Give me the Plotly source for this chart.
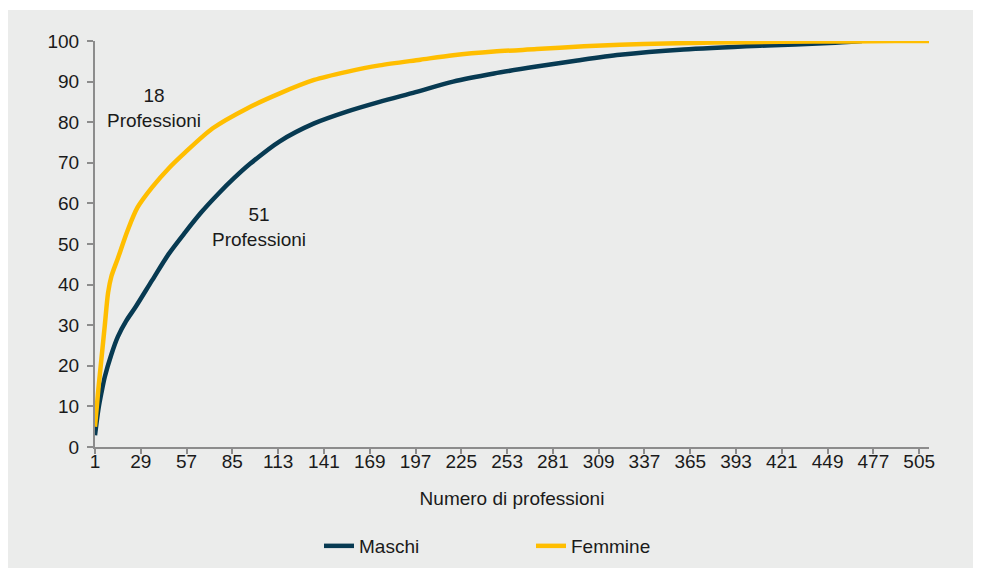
import plotly.graph_objects as go

# Cumulative share (%) of employed covered by the first N professions
femmine_x = [1, 3, 5, 7, 9, 11, 15, 21, 27, 36, 46, 56, 73, 94, 114, 135, 155, 175,
             200, 220, 245, 271, 300, 322, 350, 380, 420, 463, 490, 512]
femmine_y = [5.0, 14.0, 22.0, 30.0, 38.0, 42.0, 46.5, 53.4, 59.0, 64.0, 68.6, 72.5,
             78.5, 83.4, 87.1, 90.4, 92.4, 94.0, 95.4, 96.5, 97.4, 98.0, 98.7, 99.1,
             99.4, 99.6, 99.8, 99.9, 100.0, 100.0]

maschi_x = [1, 3, 5, 7, 11, 15, 20, 26, 36, 46, 56, 66, 76, 86, 96, 114, 135, 155,
            175, 197, 220, 245, 271, 296, 322, 361, 412, 450, 470]
maschi_y = [2.9, 9.1, 13.5, 17.3, 22.8, 27.2, 31.0, 34.6, 41.1, 47.5, 52.8, 57.8,
            62.2, 66.2, 69.8, 75.3, 79.7, 82.6, 85.0, 87.4, 90.0, 92.0, 93.7, 95.2,
            96.6, 97.9, 98.9, 99.5, 100.0]

x_ticks = list(range(1, 506, 28))
y_ticks = list(range(0, 101, 10))

BG = '#EBECEB'
AXIS = '#8C8C8C'
FONT = 'Liberation Sans, Arial, sans-serif'
W, H = 973, 560

fig = go.Figure()

fig.add_trace(go.Scatter(
    x=maschi_x, y=maschi_y, mode='lines', name='Maschi',
    line=dict(color='#073A52', width=4.5, shape='spline', smoothing=0.8),
    cliponaxis=False
))
fig.add_trace(go.Scatter(
    x=femmine_x, y=femmine_y, mode='lines', name='Femmine',
    line=dict(color='#FFBE00', width=4.5, shape='spline', smoothing=0.8),
    cliponaxis=False
))

# gray panel with a thin white strip on top
fig.add_shape(type='rect', xref='paper', yref='paper', layer='below',
              x0=-0.2, x1=1.2, y0=-0.4, y1=1.0764,
              fillcolor=BG, line=dict(width=0))

fig.add_annotation(x=37, y=83.5, text='18<br>Professioni', showarrow=False,
                   font=dict(size=19, color='#1A1A1A'))
fig.add_annotation(x=101, y=54.3, text='51<br>Professioni', showarrow=False,
                   font=dict(size=19, color='#1A1A1A'))

fig.update_layout(
    width=W, height=H,
    margin=dict(l=87, r=52, t=33, b=H - 33 - 406, autoexpand=False),
    paper_bgcolor='white',
    plot_bgcolor=BG,
    font=dict(family=FONT, size=19, color='#1A1A1A'),
    showlegend=True,
    legend=dict(
        orientation='h', x=0.2686, xanchor='left',
        yref='container', y=1 - 538 / H, yanchor='middle',
        entrywidth=167, entrywidthmode='pixels',
        bgcolor='rgba(0,0,0,0)', font=dict(size=19)
    )
)

fig.update_xaxes(
    range=[1, 511], tickvals=x_ticks, showgrid=False, zeroline=False,
    showline=True, linecolor=AXIS, linewidth=2,
    ticks='outside', ticklen=5, tickwidth=2, tickcolor=AXIS,
    ticklabelstandoff=-9, automargin=False,
    title=dict(text='Numero di professioni', font=dict(size=19), standoff=21)
)
fig.update_yaxes(
    range=[0, 100], tickvals=y_ticks, showgrid=False, zeroline=False,
    showline=True, linecolor=AXIS, linewidth=2,
    ticks='outside', ticklen=6, tickwidth=2, tickcolor=AXIS,
    ticklabelstandoff=4, automargin=False
)

fig.write_html('out.html')
